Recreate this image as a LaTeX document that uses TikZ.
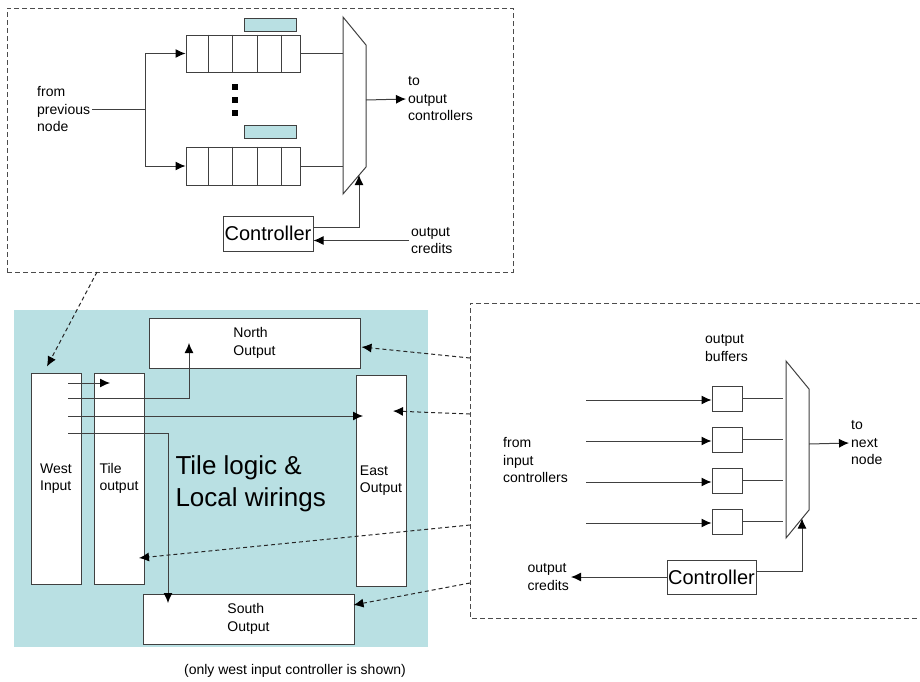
\documentclass[tikz,border=0pt]{standalone}
\usepackage{fontspec}
\setmainfont{Liberation Sans}
\usepackage{tikz}
\usetikzlibrary{positioning}
\usetikzlibrary{calc}
\usetikzlibrary{arrows.meta}
\definecolor{tilecol}{RGB}{185,224,227}
\colorlet{linecol}{black!75}
\tikzset{>={Latex[length=10pt,width=9pt,color=black]}}
\tikzset{
  blk/.style={draw=linecol, line width=1pt, fill=white, inner sep=0pt},
  frame/.style={draw=black!70, line width=1pt, dash pattern=on 5pt off 3pt},
  wire/.style={draw=linecol, line width=1pt},
  dwire/.style={draw=black!85, line width=1pt, dash pattern=on 4pt off 3pt},
  txt/.style={font=\fontsize{14}{17.5}\selectfont, align=left},
  lbl/.style={txt, inner sep=2pt},
  ctrltxt/.style={font=\fontsize{20}{24}\selectfont},
}

\begin{document}
\begin{tikzpicture}[x=1pt,y=-1pt]

\useasboundingbox (0,0) rectangle (920,681);

% Input controller (top frame)
\node[frame, minimum width=506pt, minimum height=264pt] (inframe) at (260,140) {};

% Queues and credit counters
\node[blk, minimum width=114pt, minimum height=37pt] (qA) at (243,53.5) {};
\node[blk, minimum width=114pt, minimum height=38pt] (qB) at (243,166) {};
\foreach \cx in {208,232,257,281} {
  \draw[wire] (qA.north -| \cx,0) -- (qA.south -| \cx,0);
  \draw[wire] (qB.north -| \cx,0) -- (qB.south -| \cx,0);
}
\node[blk, fill=tilecol, minimum width=52pt, minimum height=13pt] (crA) at (270,24.5) {};
\node[blk, fill=tilecol, minimum width=52pt, minimum height=13pt] (crB) at (270,131.5) {};

% Dots
\foreach \dy in {87,100,113}
  \fill (235,\dy) +(-3,-3) rectangle +(3,3);

% Mux
\coordinate (mAtl) at (343,17);
\coordinate (mAtr) at (366,45);
\coordinate (mAbr) at (366,167);
\coordinate (mAbl) at (343,194);
\draw[wire, fill=white] (mAtl) -- (mAtr) -- (mAbr) -- (mAbl) -- cycle;

% Input side
\node[lbl, anchor=west] (fromprev) at (35,109) {from\\previous\\node};
\coordinate (split) at (145,109);
\draw[wire] (fromprev.east) -- (split);
\draw[wire,->] (split) |- (qA.west);
\draw[wire,->] (split) |- (qB.west);

% Queue outputs
\draw[wire] (qA.east) -- (qA.east -| mAtl);
\draw[wire] (qB.east) -- (qB.east -| mAtl);

% Mux output
\coordinate (mAout) at (366,100);
\node[lbl, anchor=west] (toout) at (406,99) {to\\output\\controllers};
\draw[wire,->] (mAout) -- (toout.west);

% Controller
\node[blk, ctrltxt, minimum width=90pt, minimum height=35pt] (ctrlA) at (268,233.5) {Controller};
\coordinate (selA) at (359,175);
\draw[wire,->] ($(ctrlA.east)+(0,-6.5)$) -| (selA);
\node[lbl, anchor=west] (credA) at (409,240.5) {output\\credits};
\draw[wire,->] (credA.west) -- (credA.west -| ctrlA.east);

% Tile
\node[fill=tilecol, minimum width=414pt, minimum height=337pt, inner sep=0pt] (tile) at (221,478.5) {};
\node[blk, txt, minimum width=50pt, minimum height=211pt] (westin) at (56,478.5) {West\\Input};
\node[blk, txt, minimum width=50pt, minimum height=211pt] (tileout) at (119,478.5) {Tile\\output};
\node[blk, txt, minimum width=211pt, minimum height=50pt] (northout) at (254.5,343) {North\\Output};
\node[blk, txt, minimum width=50pt, minimum height=211pt] (eastout) at (381,480.5) {East\\Output};
\node[blk, txt, minimum width=211pt, minimum height=50pt] (southout) at (248.5,619) {South\\Output};
\node[anchor=west, align=left, font=\fontsize{26}{32}\selectfont] (logic) at (172,484) {Tile logic \&\\Local wirings};

% Link from input controller
\coordinate (inframefoot) at (97,272);
\draw[dwire,->] (inframefoot) -- ($(westin.north)+(-9,-6)$);

% Wires from west input
\coordinate (w1) at (68,383);
\coordinate (t1) at (110,383);
\coordinate (w2) at (68,398);
\coordinate (n2) at (189,343);
\coordinate (w3) at (68,416);
\coordinate (e3) at (363,416);
\coordinate (w4) at (68,433);
\coordinate (s4) at (168,603);
\draw[wire,->] (w1) -- (t1);
\draw[wire,->] (w2) -| (n2);
\draw[wire,->] (w3) -- (e3);
\draw[wire,->] (w4) -| (s4);

% Output controller (right frame)
\draw[frame] (921,303) -| (470,618) -- (921,618);

% Links from output controller
\coordinate (of1) at (470,358);
\coordinate (of2) at (470,414);
\coordinate (of3) at (470,525);
\coordinate (of4) at (470,583);
\coordinate (ein) at (393,411);
\coordinate (tin) at (139,558);
\draw[dwire,->] (of1) -- ($(northout.east)+(1,4)$);
\draw[dwire,->] (of2) -- (ein);
\draw[dwire,->] (of3) -- (tin);
\draw[dwire,->] (of4) -- ($(southout.east)+(-1,-14)$);

% Output buffers
\node[lbl, anchor=west] (obuf) at (703,348) {output\\buffers};
\foreach \i/\y in {1/398.5,2/439.5,3/480.5,4/521.5} {
  \node[blk, minimum width=30pt, minimum height=25pt] (b\i) at (727,\y) {};
  \coordinate (in\i) at (586,\y+1.5);
  \draw[wire,->] (in\i) -- (in\i -| b\i.west);
  \draw[wire] (b\i.east) -- (b\i.east -| 783,0);
}
\node[lbl, anchor=west] (fromin) at (501,460) {from\\input\\controllers};

% Mux
\coordinate (mBtl) at (786,361);
\coordinate (mBtr) at (809,389);
\coordinate (mBbr) at (809,510);
\coordinate (mBbl) at (786,538);
\draw[wire, fill=white] (mBtl) -- (mBtr) -- (mBbr) -- (mBbl) -- cycle;
\coordinate (mBout) at (809,444);
\node[lbl, anchor=west] (tonext) at (849,443) {to\\next\\node};
\draw[wire,->] (mBout) -- (tonext.west);

% Controller
\node[blk, ctrltxt, minimum width=89pt, minimum height=34pt] (ctrlB) at (711.5,577) {Controller};
\coordinate (selB) at (802,518.5);
\draw[wire,->] ($(ctrlB.east)+(0,-6)$) -| (selB);
\node[lbl, anchor=east] (credB) at (571,577) {output\\credits};
\draw[wire,->] (ctrlB.west) -- (credB.east);

% Note
\node[txt] (note) at (295,671) {(only west input controller is shown)};

\end{tikzpicture}
\end{document}
